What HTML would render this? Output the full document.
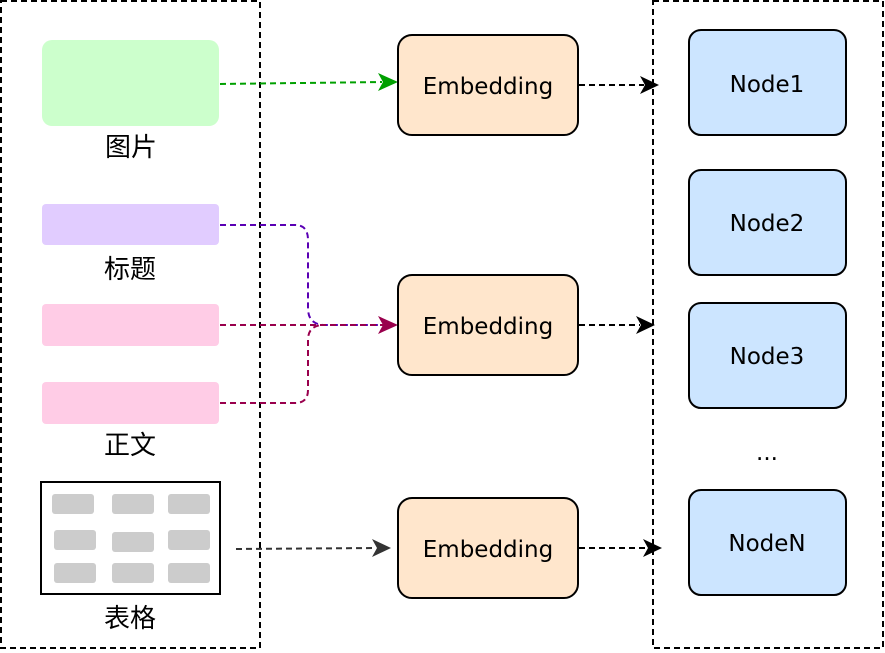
<!DOCTYPE html>
<html><head><meta charset="utf-8"><style>body{margin:0;background:#fff}svg{display:block}text{font-family:"DejaVu Sans","Noto Sans CJK SC",sans-serif}</style></head><body>
<svg width="885" height="653" viewBox="0 0 885 653" xmlns="http://www.w3.org/2000/svg">
<g fill="none" stroke="#000" stroke-width="2" stroke-dasharray="6,4">
<rect x="1" y="1" width="259" height="647"/>
<rect x="653" y="1" width="230" height="647"/>
</g>
<rect x="42" y="40" width="177" height="86" rx="10" fill="#ccffcc"/>
<rect x="42" y="204" width="177" height="41" rx="4" fill="#e1ccff"/>
<rect x="42" y="304" width="177" height="42" rx="4" fill="#ffcce6"/>
<rect x="42" y="382" width="177" height="42" rx="4" fill="#ffcce6"/>
<g font-size="26" fill="#000" text-anchor="middle">
<text x="131" y="156">图片</text>
<text x="130" y="278">标题</text>
<text x="130" y="454">正文</text>
<text x="130" y="627">表格</text>
</g>
<rect x="41" y="482" width="179" height="112" fill="#fff" stroke="#000" stroke-width="2"/>
<g fill="#ccc">
<rect x="52" y="494" width="42" height="20" rx="3"/><rect x="112" y="494" width="42" height="20" rx="3"/><rect x="168" y="494" width="42" height="20" rx="3"/>
<rect x="54" y="530" width="42" height="20" rx="3"/><rect x="112" y="532" width="42" height="20" rx="3"/><rect x="168" y="530" width="42" height="20" rx="3"/>
<rect x="54" y="563" width="42" height="20" rx="3"/><rect x="112" y="563" width="42" height="20" rx="3"/><rect x="168" y="563" width="42" height="20" rx="3"/>
</g>
<g fill="none" stroke-width="2" stroke-dasharray="6,4">
<path d="M220,84 L382,82" stroke="#00a000"/>
<path d="M220,225 L295,225 Q308,225 308,240 L308,308 Q308,325 325,325 L384,325" stroke="#5a00b4"/>
<path d="M220,325 L384,325" stroke="#99004d"/>
<path d="M220,403 L295,403 Q308,403 308,390 L308,340 Q308,326 322,325" stroke="#99004d"/>
<path d="M236,549 L376,548" stroke="#333"/>
<path d="M579,85 L644,85" stroke="#000"/>
<path d="M579,325 L640,325" stroke="#000"/>
<path d="M579,548 L647,548" stroke="#000"/>
</g>
<path d="M398,82 L378,73 L383,82 L378,91z" fill="#00a000"/>
<path d="M398,325 L378,316 L383,325 L378,334z" fill="#99004d"/>
<path d="M391,548 L372,539 L377,548 L372,557z" fill="#333"/>
<path d="M659,85 L640,76 L645,85 L640,94z" fill="#000"/>
<path d="M655,325 L636,316 L641,325 L636,334z" fill="#000"/>
<path d="M662,548 L643,539 L648,548 L643,557z" fill="#000"/>
<g fill="#ffe6cc" stroke="#000" stroke-width="2">
<rect x="398" y="35" width="180" height="100" rx="14"/>
<rect x="398" y="275" width="180" height="100" rx="14"/>
<rect x="398" y="498" width="180" height="100" rx="14"/>
</g>
<g fill="#cce5ff" stroke="#000" stroke-width="2">
<rect x="689" y="30" width="157" height="105" rx="12"/>
<rect x="689" y="170" width="157" height="105" rx="12"/>
<rect x="689" y="303" width="157" height="105" rx="12"/>
<rect x="689" y="490" width="157" height="105" rx="12"/>
</g>
<g font-size="23" fill="#000" text-anchor="middle">
<text x="488" y="94">Embedding</text>
<text x="488" y="334">Embedding</text>
<text x="488" y="557">Embedding</text>
<text x="767" y="92">Node1</text>
<text x="767" y="231">Node2</text>
<text x="767" y="364">Node3</text>
<text x="767" y="460">...</text>
<text x="767" y="551">NodeN</text>
</g>
</svg>
</body></html>
